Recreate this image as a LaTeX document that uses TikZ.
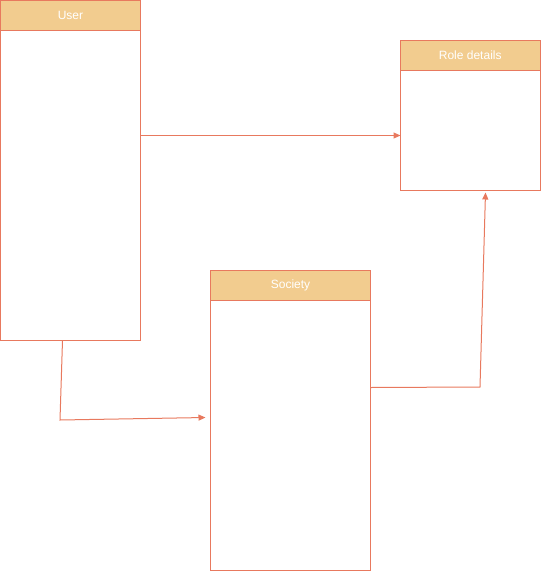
\documentclass[tikz,border=0pt]{standalone}
\usepackage{fontspec}
\setmainfont{Liberation Sans}
\usetikzlibrary{calc,arrows.meta}
\definecolor{boxline}{HTML}{E8795E}
\definecolor{hfill}{HTML}{F2CC8F}
\tikzset{
  box/.style={draw=boxline, line width=1pt, fill=white, inner sep=0pt, outer sep=0pt, anchor=north west},
  hdr/.style={draw=boxline, line width=1pt, fill=hfill, inner sep=0pt, outer sep=0pt, anchor=north west, text=white, font=\fontsize{12pt}{14pt}\selectfont},
  conn/.style={draw=boxline, line width=1pt, -{Triangle[length=7pt,width=6pt]}}
}
\begin{document}
\begin{tikzpicture}[x=1pt,y=-1pt]
\useasboundingbox (0,0) rectangle (541,571);
% User
\node[box, minimum width=140pt, minimum height=340pt] (user) at (0.5,0.5) {};
\node[hdr, minimum width=140pt, minimum height=30pt] (userh) at (user.north west) {User};
% Role details
\node[box, minimum width=139.5pt, minimum height=150pt] (role) at (400.5,40.5) {};
\node[hdr, minimum width=139.5pt, minimum height=30pt] (roleh) at (role.north west) {Role details};
% Society
\node[box, minimum width=160pt, minimum height=299.5pt] (soc) at (210.5,270.5) {};
\node[hdr, minimum width=160pt, minimum height=30pt] (soch) at (soc.north west) {Society};
% connectors
\coordinate (ua) at ($(user.north east)+(0,135)$);
\coordinate (ra) at ($(role.north west)+(0,95)$);
\draw[conn] (ua) -- (ra);
\coordinate (ub) at ($(user.south west)+(62,0)$);
\coordinate (sa) at ($(soc.north west)+(-5,147)$);
\draw[conn] (ub) -- (60,420) -- (sa);
\coordinate (sb) at ($(soc.north east)+(0,117)$);
\coordinate (rb) at ($(role.south west)+(85,2)$);
\draw[conn] (sb) -- (480,387) -- (rb);
\end{tikzpicture}
\end{document}
